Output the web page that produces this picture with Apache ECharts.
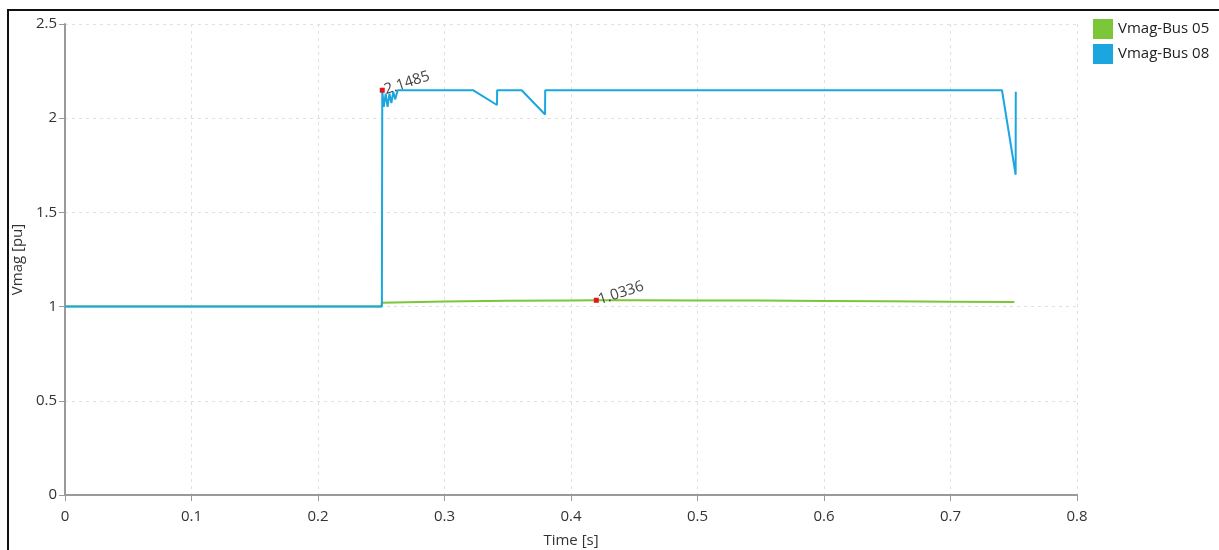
<!DOCTYPE html>
<html>
<head>
<meta charset="utf-8">
<script src="https://cdn.jsdelivr.net/npm/echarts@6/dist/echarts.min.js"></script>
<style>
  body { margin: 0; background: #fff; }
  #wrap { position: relative; width: 1219px; height: 550px; overflow: hidden; }
  #chart { width: 1219px; height: 550px; }
  #frame {
    position: absolute; left: 7px; top: 9px; right: 0; bottom: 0;
    border-left: 2px solid #111; border-top: 2px solid #111; pointer-events: none;
  }
</style>
</head>
<body>
<div id="wrap">
  <div id="chart"></div>
  <div id="frame"></div>
</div>
<script>
// 时间轴 / 电压幅值
var xTicks = [0, 0.1, 0.2, 0.3, 0.4, 0.5, 0.6, 0.7, 0.8];
var yTicks = [0, 0.5, 1, 1.5, 2, 2.5];

var bus05Time = [0, 0.25, 0.2505, 0.3, 0.35, 0.4, 0.42, 0.45, 0.5, 0.55, 0.6, 0.65, 0.7, 0.7505];
var bus05Vmag = [1, 1, 1.02, 1.027, 1.031, 1.033, 1.0336, 1.0335, 1.033, 1.032, 1.03, 1.028, 1.026, 1.024];

var bus08Time = [0, 0.2505, 0.2508, 0.252, 0.2535, 0.255, 0.2565, 0.258, 0.2595, 0.261, 0.263, 0.3225, 0.3415, 0.3416, 0.361, 0.3795, 0.3796, 0.7407, 0.7515, 0.7516];
var bus08Vmag = [1, 1, 2.1485, 2.06, 2.13, 2.06, 2.13, 2.08, 2.14, 2.1, 2.1485, 2.1485, 2.07, 2.1485, 2.1485, 2.02, 2.1485, 2.1485, 1.70, 2.14];

var peak08 = [0.2508, 2.1485];
var peak05 = [0.42, 1.0336];

function pairs(xs, ys) {
  return xs.map(function (x, i) { return [x, ys[i]]; });
}

var myChart = echarts.init(document.getElementById("chart"));
var axisColor = "#9a9a9a";
var labelFont = { color: "#333", fontSize: 15, fontFamily: "Open Sans" };

function markLabel(p) {
  return {
    coord: p,
    value: p[1].toFixed(4),
    symbol: "rect",
    symbolSize: 5,
    itemStyle: { color: "#e8141c" },
    label: {
      show: true,
      position: "right",
      distance: 0,
      rotate: 18,
      formatter: p[1].toFixed(4),
      color: "#444",
      fontSize: 15,
      fontFamily: "Open Sans"
    }
  };
}

var option = {
  animation: false,
  grid: { left: 65, right: 142, top: 24, bottom: 55, outerBoundsMode: "none" },
  legend: {
    orient: "vertical",
    left: 1088,
    top: 14,
    itemWidth: 20,
    itemHeight: 20,
    itemGap: 5,
    icon: "rect",
    textStyle: { color: "#222", fontSize: 15, fontFamily: "Open Sans" },
    data: ["Vmag-Bus 05", "Vmag-Bus 08"]
  },
  xAxis: {
    type: "value",
    min: xTicks[0],
    max: xTicks[xTicks.length - 1],
    interval: 0.1,
    name: "Time [s]",
    nameLocation: "middle",
    nameGap: 38,
    nameTextStyle: labelFont,
    axisLine: { show: true, lineStyle: { color: axisColor, width: 2 } },
    axisTick: { show: true, length: 6, lineStyle: { color: axisColor } },
    axisLabel: Object.assign({ margin: 14 }, labelFont),
    splitLine: { show: true, lineStyle: { color: "#e0e0e0", type: [3, 4] } }
  },
  yAxis: {
    type: "value",
    min: yTicks[0],
    max: yTicks[yTicks.length - 1],
    interval: 0.5,
    name: "Vmag [pu]",
    nameLocation: "middle",
    nameGap: 30,
    nameTextStyle: labelFont,
    axisLine: { show: true, lineStyle: { color: axisColor, width: 2 } },
    axisTick: { show: true, length: 6, lineStyle: { color: axisColor } },
    axisLabel: Object.assign({ margin: 8 }, labelFont),
    splitLine: { show: true, lineStyle: { color: "#e0e0e0", type: [3, 4] } }
  },
  series: [
    {
      name: "Vmag-Bus 05",
      type: "line",
      data: pairs(bus05Time, bus05Vmag),
      showSymbol: false,
      color: "#7cc63a",
      lineStyle: { width: 2 },
      markPoint: { data: [markLabel(peak05)] },
      z: 2
    },
    {
      name: "Vmag-Bus 08",
      type: "line",
      data: pairs(bus08Time, bus08Vmag),
      showSymbol: false,
      color: "#1ba6e0",
      lineStyle: { width: 2 },
      markPoint: { data: [markLabel(peak08)] },
      z: 3
    }
  ]
};
myChart.setOption(option);
window.addEventListener("resize", () => {
  myChart.resize();
});
</script>
</body>
</html>
